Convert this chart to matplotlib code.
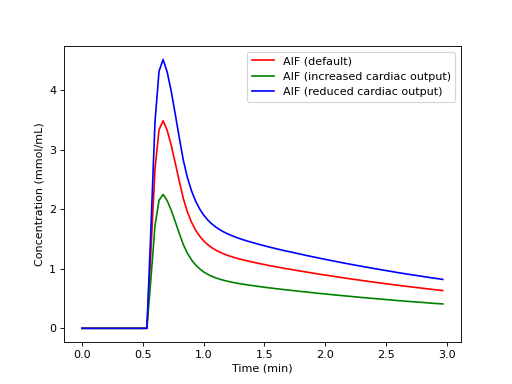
import matplotlib
matplotlib.use("Agg")
import matplotlib.pyplot as plt
import numpy as np

# sampling every 2 s, in minutes
time_min = np.arange(90) / 30

baseline = [0.0] * 17

aif_default = baseline + [
    1.300, 2.680, 3.340, 3.490, 3.330, 3.080, 2.780,
    2.473, 2.180, 1.957, 1.786, 1.654, 1.552, 1.471, 1.408, 1.357, 1.315,
    1.280, 1.250, 1.225, 1.202, 1.182, 1.163, 1.146, 1.130, 1.115, 1.100,
    1.086, 1.072, 1.058, 1.045, 1.033, 1.020, 1.008, 0.997, 0.985, 0.973,
    0.962, 0.950, 0.939, 0.928, 0.917, 0.906, 0.896, 0.885, 0.875, 0.864,
    0.854, 0.844, 0.834, 0.824, 0.815, 0.805, 0.795, 0.786, 0.777, 0.768,
    0.759, 0.750, 0.741, 0.732, 0.723, 0.715, 0.706, 0.698, 0.690, 0.682,
    0.674, 0.666, 0.658, 0.650, 0.643, 0.635]

aif_high_co = baseline + [
    0.839, 1.729, 2.154, 2.251, 2.148, 1.987, 1.793,
    1.595, 1.406, 1.262, 1.152, 1.067, 1.001, 0.949, 0.908, 0.875, 0.848,
    0.826, 0.806, 0.790, 0.775, 0.762, 0.750, 0.739, 0.729, 0.719, 0.710,
    0.700, 0.691, 0.682, 0.674, 0.666, 0.658, 0.650, 0.643, 0.635, 0.628,
    0.620, 0.613, 0.606, 0.599, 0.591, 0.584, 0.578, 0.571, 0.564, 0.557,
    0.551, 0.544, 0.538, 0.531, 0.526, 0.519, 0.513, 0.507, 0.501, 0.495,
    0.490, 0.484, 0.478, 0.472, 0.466, 0.461, 0.455, 0.450, 0.445, 0.440,
    0.435, 0.430, 0.424, 0.419, 0.415, 0.410]

aif_low_co = baseline + [
    1.684, 3.471, 4.325, 4.520, 4.312, 3.989, 3.600,
    3.203, 2.823, 2.534, 2.313, 2.142, 2.010, 1.905, 1.823, 1.757, 1.703,
    1.658, 1.619, 1.586, 1.557, 1.531, 1.506, 1.484, 1.463, 1.444, 1.425,
    1.406, 1.388, 1.370, 1.353, 1.337, 1.321, 1.305, 1.291, 1.276, 1.260,
    1.246, 1.230, 1.216, 1.202, 1.188, 1.173, 1.160, 1.146, 1.133, 1.119,
    1.106, 1.093, 1.080, 1.067, 1.055, 1.042, 1.030, 1.018, 1.006, 0.995,
    0.983, 0.971, 0.960, 0.948, 0.936, 0.926, 0.914, 0.904, 0.894, 0.883,
    0.873, 0.862, 0.852, 0.842, 0.833, 0.822]

fig, ax = plt.subplots(figsize=(6.4, 4.8), dpi=80)

ax.plot(time_min, aif_default, 'r-', label='AIF (default)')
ax.plot(time_min, aif_high_co, 'g-', label='AIF (increased cardiac output)')
ax.plot(time_min, aif_low_co, 'b-', label='AIF (reduced cardiac output)')

ax.set_xlabel('Time (min)')
ax.set_ylabel('Concentration (mmol/mL)')
ax.legend()

fig.savefig('out.png', dpi=80)
